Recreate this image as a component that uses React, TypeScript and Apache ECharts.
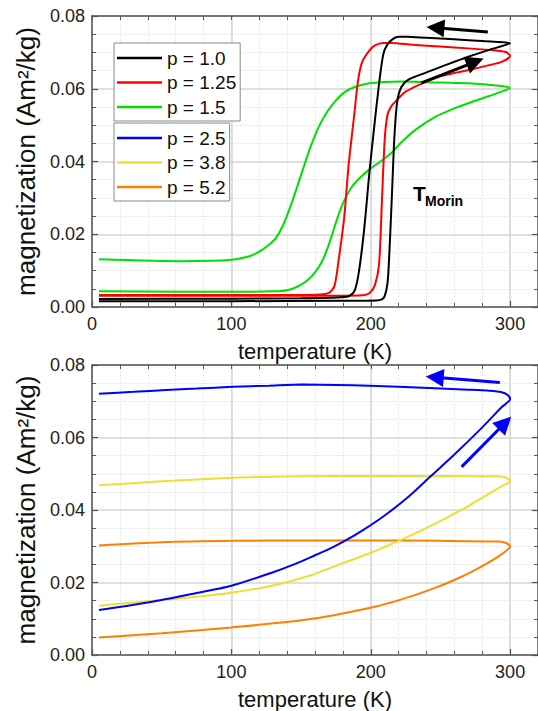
import React, { useEffect, useRef } from 'react';
import * as echarts from 'echarts';

const FONT = "'Liberation Sans', Arial, Helvetica, sans-serif";

const legendTopNames = ['p = 1.0', 'p = 1.25', 'p = 1.5'];
const legendBottomNames = ['p = 2.5', 'p = 3.8', 'p = 5.2'];

const xTitle = 'temperature (K)';
const yTitle = 'magnetization (Am²/kg)';

// [temperature (K), magnetization (Am²/kg)] — heating branch then cooling branch
const p10Heat: number[][] = [[5, 0.0016], [100, 0.0016], [180, 0.0017], [204, 0.0018], [208, 0.0021], [210, 0.003], [212, 0.0065], [213, 0.012], [215, 0.029], [217, 0.047], [219, 0.0565], [222, 0.0605], [227, 0.0625], [240, 0.0645], [255, 0.0667], [270, 0.0688], [285, 0.0707], [300, 0.0725]];
const p10Cool: number[][] = [[300, 0.0725], [280, 0.0731], [260, 0.0736], [240, 0.074], [226, 0.0743], [220, 0.0743], [216, 0.0737], [212, 0.0722], [209, 0.0695], [206, 0.0615], [202, 0.0478], [199, 0.0368], [195, 0.0203], [191, 0.0085], [188, 0.0042], [183, 0.0028], [150, 0.0024], [100, 0.0023], [5, 0.0022]];

const p125Heat: number[][] = [[5, 0.0031], [100, 0.0031], [180, 0.0031], [194, 0.0032], [199, 0.0038], [203, 0.006], [206, 0.012], [208, 0.029], [210, 0.046], [212, 0.0528], [215, 0.0553], [218, 0.0566], [225, 0.0592], [237, 0.0615], [249, 0.0633], [262, 0.0645], [272, 0.0653], [285, 0.0665], [294, 0.0674], [300, 0.069]];
const p125Cool: number[][] = [[300, 0.0693], [297, 0.0701], [290, 0.0705], [270, 0.0711], [250, 0.0716], [230, 0.0721], [215, 0.0726], [209, 0.0726], [203, 0.0719], [199, 0.0705], [194, 0.0675], [191, 0.0625], [188, 0.0523], [184, 0.0386], [181, 0.0248], [177, 0.013], [174, 0.0058], [170, 0.0039], [160, 0.0034], [100, 0.0033], [5, 0.0033]];

const p15Heat: number[][] = [[5, 0.0043], [60, 0.0042], [100, 0.0042], [130, 0.0043], [140, 0.0046], [148, 0.0057], [155, 0.0075], [160, 0.0095], [165, 0.0125], [170, 0.0172], [175, 0.0232], [180, 0.0285], [186, 0.0328], [193, 0.0358], [200, 0.0381], [207, 0.04], [215, 0.0424], [222, 0.0453], [232, 0.0487], [246, 0.0522], [260, 0.0546], [272, 0.0563], [285, 0.058], [294, 0.0592], [300, 0.0602]];
const p15Cool: number[][] = [[300, 0.0603], [292, 0.0608], [270, 0.0615], [240, 0.0618], [222, 0.062], [199, 0.0615], [188, 0.0604], [181, 0.059], [175, 0.0568], [169, 0.0538], [163, 0.0498], [157, 0.0442], [151, 0.0375], [144, 0.0294], [137, 0.0224], [132, 0.019], [127, 0.0171], [120, 0.0152], [114, 0.0141], [107, 0.0134], [100, 0.013], [85, 0.0127], [65, 0.0126], [45, 0.0127], [25, 0.0129], [5, 0.0131]];

const p25Heat: number[][] = [[5, 0.0124], [40, 0.0145], [71, 0.0168], [100, 0.0191], [129, 0.0227], [145, 0.025], [157, 0.027], [170, 0.0292], [182, 0.0316], [195, 0.0346], [210, 0.0385], [226, 0.0433], [243, 0.0493], [260, 0.0553], [280, 0.0628], [294, 0.0684], [300, 0.0706]];
const p25Cool: number[][] = [[300, 0.0708], [298, 0.0718], [294, 0.0725], [285, 0.0729], [270, 0.0732], [246, 0.0736], [220, 0.074], [199, 0.0743], [175, 0.0745], [151, 0.0746], [127, 0.0743], [101, 0.074], [75, 0.0735], [53, 0.0731], [30, 0.0726], [5, 0.0721]];

const p38Heat: number[][] = [[5, 0.0136], [40, 0.0148], [71, 0.0159], [100, 0.0172], [129, 0.0191], [157, 0.022], [175, 0.0246], [200, 0.0282], [220, 0.0315], [246, 0.0362], [270, 0.0411], [294, 0.0466], [300, 0.0479]];
const p38Cool: number[][] = [[300, 0.048], [297, 0.049], [290, 0.0493], [250, 0.0494], [200, 0.0494], [150, 0.0493], [127, 0.0492], [101, 0.0489], [50, 0.0479], [5, 0.0468]];

const p52Heat: number[][] = [[5, 0.0048], [50, 0.006], [100, 0.0076], [157, 0.0099], [206, 0.0136], [230, 0.0163], [246, 0.0185], [260, 0.0207], [275, 0.0235], [290, 0.0268], [300, 0.03]];
const p52Cool: number[][] = [[300, 0.0302], [297, 0.0309], [292, 0.0313], [250, 0.0315], [200, 0.0316], [150, 0.0316], [101, 0.0315], [50, 0.0311], [5, 0.0302]];

// arrows: [tail, head] in data units
const topArrows: number[][][] = [[[284, 0.0756], [246.4, 0.0768]], [[236.4, 0.0616], [274.9, 0.0674]]];
const bottomArrows: number[][][] = [[[292.6, 0.0752], [245.9, 0.0766]], [[265.2, 0.0519], [296.3, 0.064]]];

const X_MIN = 0, X_MAX = 320, X_MAJOR = 100, X_MINOR = 20;
const Y_MIN = 0, Y_MAX = 0.08, Y_MAJOR = 0.02;

const AXIS_COLOR = '#555';

function buildXAxes(gridIndex: number, withTitle: boolean) {
  const main = {
    type: 'value', gridIndex, position: 'bottom', min: X_MIN, max: X_MAX, interval: X_MAJOR,
    axisLine: { show: true, onZero: false, lineStyle: { color: AXIS_COLOR, width: 1.5 } },
    axisTick: { show: true, inside: true, length: 6, lineStyle: { color: AXIS_COLOR, width: 1.2 } },
    axisLabel: { show: true, fontSize: 18, fontFamily: FONT, color: '#222', margin: 8, showMaxLabel: false },
    splitLine: { show: true, lineStyle: { color: '#d4d4d4', width: 1.5 } },
    name: withTitle ? xTitle : '', nameLocation: 'middle', nameGap: 33,
    nameTextStyle: { fontSize: 22, fontFamily: FONT, color: '#111' },
    z: 3,
  };
  const minor = {
    type: 'value', gridIndex, position: 'bottom', min: X_MIN, max: X_MAX, interval: X_MINOR,
    axisLine: { show: false, onZero: false },
    axisTick: { show: true, inside: true, length: 4, lineStyle: { color: AXIS_COLOR, width: 1 } },
    axisLabel: { show: false },
    splitLine: { show: true, lineStyle: { color: '#e2e2e2', width: 1, type: 'dotted' } },
    z: 2,
  };
  const top = {
    type: 'value', gridIndex, position: 'top', min: X_MIN, max: X_MAX, interval: X_MINOR,
    axisLine: { show: true, onZero: false, lineStyle: { color: AXIS_COLOR, width: 1.5 } },
    axisTick: { show: true, inside: true, length: 4, lineStyle: { color: AXIS_COLOR, width: 1 } },
    axisLabel: { show: false },
    splitLine: { show: false },
    z: 3,
  };
  return [main, minor, top];
}

function buildYAxes(gridIndex: number) {
  const left = {
    type: 'value', gridIndex, position: 'left', min: Y_MIN, max: Y_MAX, interval: Y_MAJOR,
    axisLine: { show: true, onZero: false, lineStyle: { color: AXIS_COLOR, width: 1.5 } },
    axisTick: { show: true, inside: true, length: 6, lineStyle: { color: AXIS_COLOR, width: 1.2 } },
    minorTick: { show: true, splitNumber: 4, length: 4, lineStyle: { color: AXIS_COLOR, width: 1 } },
    axisLabel: { show: true, fontSize: 18, fontFamily: FONT, color: '#222', margin: 7, formatter: (v: number) => v.toFixed(2) },
    splitLine: { show: true, lineStyle: { color: '#d4d4d4', width: 1.5 } },
    minorSplitLine: { show: true, lineStyle: { color: '#e2e2e2', width: 1, type: 'dotted' } },
    name: yTitle, nameLocation: 'middle', nameGap: 49,
    nameTextStyle: { fontSize: 26, fontFamily: FONT, color: '#111' },
    z: 3,
  };
  const right = {
    type: 'value', gridIndex, position: 'right', min: Y_MIN, max: Y_MAX, interval: Y_MAJOR,
    axisLine: { show: true, onZero: false, lineStyle: { color: AXIS_COLOR, width: 1.5 } },
    axisTick: { show: true, inside: true, length: 6, lineStyle: { color: AXIS_COLOR, width: 1.2 } },
    minorTick: { show: true, splitNumber: 4, length: 4, lineStyle: { color: AXIS_COLOR, width: 1 } },
    axisLabel: { show: false },
    splitLine: { show: false },
    z: 3,
  };
  return [left, right];
}

function loopSeries(name: string, color: string, heat: number[][], cool: number[][], xAxisIndex: number, yAxisIndex: number, arrows?: number[][][], arrowColor?: string) {
  const s: any = {
    name, type: 'line', xAxisIndex, yAxisIndex,
    data: heat.concat(cool.slice(1)),
    symbol: 'none', smooth: 0.25,
    lineStyle: { color, width: 2 }, itemStyle: { color },
    emphasis: { disabled: true },
  };
  if (arrows) {
    s.markLine = {
      silent: true, symbol: ['none', 'triangle'], symbolSize: 18,
      label: { show: false },
      lineStyle: { color: arrowColor, width: 3, type: 'solid' },
      itemStyle: { color: arrowColor },
      emphasis: { disabled: true },
      data: arrows.map((a) => [{ coord: a[0] }, { coord: a[1] }]),
    };
  }
  return s;
}

function legendBox(names: string[], top: number) {
  return {
    data: names, orient: 'vertical', left: 114, top,
    icon: 'rect', itemWidth: 45, itemHeight: 2.5, itemGap: 4.5,
    padding: [5, 4, 4, 3],
    backgroundColor: '#fff', borderColor: '#888', borderWidth: 1, borderRadius: 0,
    selectedMode: false,
    textStyle: { fontSize: 19, fontFamily: FONT, color: '#111', lineHeight: 20 },
  };
}

export default function App() {
  const ref = useRef<HTMLDivElement>(null);
  useEffect(() => {
    if (!ref.current) return;
    const chart = echarts.init(ref.current, null, { renderer: 'svg' });
    const option: any = {
      animation: false,
      backgroundColor: '#fff',
      textStyle: { fontFamily: FONT },
      grid: [
        { left: 92, top: 16, width: 448, height: 291 },
        { left: 92, top: 365, width: 448, height: 291 },
      ],
      xAxis: [...buildXAxes(0, true), ...buildXAxes(1, true)],
      yAxis: [...buildYAxes(0), ...buildYAxes(1)],
      legend: [legendBox(legendTopNames, 43), legendBox(legendBottomNames, 123)],
      series: [
        loopSeries('p = 1.5', '#00e000', p15Heat, p15Cool, 0, 0),
        loopSeries('p = 1.25', '#ff0000', p125Heat, p125Cool, 0, 0),
        loopSeries('p = 1.0', '#000000', p10Heat, p10Cool, 0, 0, topArrows, '#000000'),
        loopSeries('p = 5.2', '#ff8000', p52Heat, p52Cool, 3, 2),
        loopSeries('p = 3.8', '#ebe032', p38Heat, p38Cool, 3, 2),
        loopSeries('p = 2.5', '#0000ff', p25Heat, p25Cool, 3, 2, bottomArrows, '#0000ff'),
      ],
      graphic: [
        { type: 'text', left: 413, top: 183, z: 10, style: { text: 'T', fontSize: 21, fontWeight: 'bold', fontFamily: FONT, fill: '#000' } },
        { type: 'text', left: 425, top: 194, z: 10, style: { text: 'Morin', fontSize: 14, fontWeight: 'bold', fontFamily: FONT, fill: '#000' } },
      ],
    };
    chart.setOption(option);
    return () => chart.dispose();
  }, []);
  return <div ref={ref} style={{ position: 'fixed', left: 0, top: 0, width: 538, height: 711, background: '#fff' }} />;
}
